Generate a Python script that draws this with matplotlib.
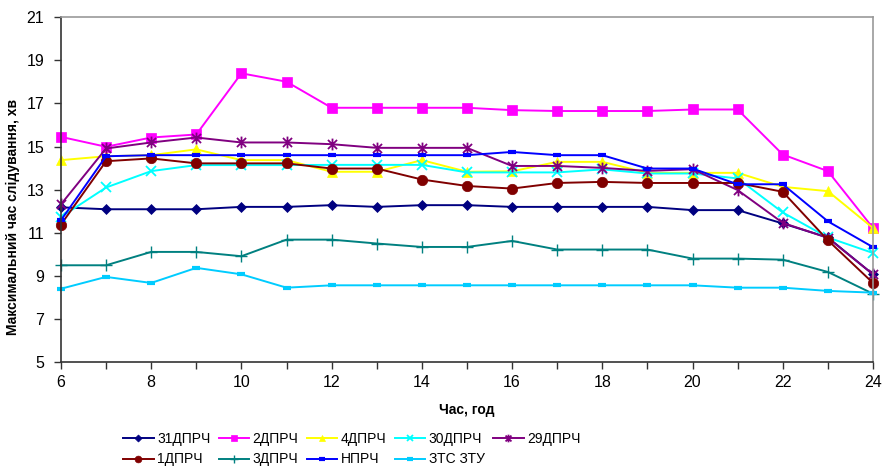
import matplotlib
matplotlib.use("Agg")
import matplotlib.pyplot as plt
from matplotlib.path import Path
from matplotlib.ticker import MultipleLocator

plt.rcParams['font.family'] = ['Liberation Sans', 'DejaVu Sans']

hours = list(range(6, 25))
y_ticks = [5, 7, 9, 11, 13, 15, 17, 19, 21]

series_names = ["31ДПРЧ", "2ДПРЧ", "4ДПРЧ", "30ДПРЧ", "29ДПРЧ",
                "1ДПРЧ", "3ДПРЧ", "НПРЧ", "ЗТС ЗТУ"]

s31 = [12.18, 12.09, 12.09, 12.09, 12.2, 12.2, 12.28, 12.2, 12.28, 12.28,
       12.2, 12.2, 12.2, 12.2, 12.05, 12.05, 11.43, 10.78, 9.07]
s2 = [15.45, 14.99, 15.42, 15.56, 18.4, 18.01, 16.8, 16.8, 16.8, 16.8,
      16.69, 16.65, 16.65, 16.65, 16.72, 16.72, 14.63, 13.86, 11.22]
s4 = [14.37, 14.55, 14.6, 14.87, 14.37, 14.37, 13.83, 13.83, 14.37, 13.83,
      13.85, 14.29, 14.29, 13.78, 13.78, 13.78, 13.13, 12.93, 11.22]
s30 = [11.73, 13.1, 13.86, 14.14, 14.14, 14.14, 14.15, 14.15, 14.15, 13.8,
       13.8, 13.8, 13.94, 13.75, 13.75, 13.52, 11.94, 10.78, 10.06]
s29 = [12.32, 14.91, 15.19, 15.42, 15.19, 15.19, 15.11, 14.94, 14.94, 14.94,
       14.1, 14.1, 14.01, 13.87, 13.95, 12.98, 11.46, 10.76, 9.07]
s1 = [11.38, 14.32, 14.45, 14.22, 14.22, 14.22, 13.98, 13.98, 13.47, 13.17,
      13.05, 13.31, 13.36, 13.31, 13.31, 13.31, 12.9, 10.65, 8.67]
s3 = [9.49, 9.49, 10.11, 10.11, 9.91, 10.68, 10.68, 10.5, 10.34, 10.34,
      10.62, 10.22, 10.22, 10.22, 9.8, 9.8, 9.75, 9.18, 8.17]
snp = [11.58, 14.55, 14.6, 14.6, 14.6, 14.6, 14.6, 14.6, 14.6, 14.6,
       14.75, 14.6, 14.6, 13.98, 13.98, 13.25, 13.25, 11.53, 10.33]
szts = [8.4, 8.95, 8.67, 9.37, 9.07, 8.45, 8.56, 8.56, 8.56, 8.56,
        8.56, 8.56, 8.56, 8.56, 8.56, 8.45, 8.45, 8.3, 8.22]

series_values = [s31, s2, s4, s30, s29, s1, s3, snp, szts]

# asterisk marker: an "x" crossed by a vertical stroke
star_path = Path(
    [(-1, -1), (1, 1), (-1, 1), (1, -1), (0, -1.3), (0, 1.3)],
    [Path.MOVETO, Path.LINETO, Path.MOVETO, Path.LINETO, Path.MOVETO, Path.LINETO],
)

styles = [
    dict(color="#000080", marker="D", ms=5.5, mew=0.5),
    dict(color="#FF00FF", marker="s", ms=7.5, mew=0.5),
    dict(color="#FFFF00", marker="^", ms=7.5, mew=0.5),
    dict(color="#00FFFF", marker="x", ms=7, mew=1.3),
    dict(color="#800080", marker=star_path, ms=8.5, mew=1.3),
    dict(color="#800000", marker="o", ms=7.5, mew=0.5),
    dict(color="#008080", marker="+", ms=8, mew=1.0),
    dict(color="#0000FF", marker="_", ms=6, mew=3),
    dict(color="#00CCFF", marker="_", ms=6, mew=3),
]

fig = plt.figure(figsize=(8.86, 4.71), dpi=100)
ax = fig.add_axes([0.0688, 0.2314, 0.9165, 0.7319])

handles = []
for name, vals, st in zip(series_names, series_values, styles):
    h, = ax.plot(hours, vals, color=st["color"], lw=1.4, marker=st["marker"],
                 markersize=st["ms"], markeredgewidth=st["mew"],
                 markerfacecolor=st["color"], markeredgecolor=st["color"],
                 label=name, clip_on=False)
    handles.append(h)

ax.set_xlim(6, 24)
ax.set_ylim(5, 21)
ax.xaxis.set_major_locator(MultipleLocator(2))
ax.xaxis.set_minor_locator(MultipleLocator(1))
ax.set_yticks(y_ticks)
ax.tick_params(axis="both", which="both", direction="out", length=5,
               width=1, color="#333333", labelsize=11.5)
ax.tick_params(axis="y", pad=7)
ax.tick_params(axis="x", pad=4)

for side in ("left", "bottom"):
    ax.spines[side].set_color("#333333")
    ax.spines[side].set_linewidth(1.2)
for side in ("top", "right"):
    ax.spines[side].set_color("#999999")
    ax.spines[side].set_linewidth(1.2)

ax.set_ylabel("Максимальний час слідування, хв", fontsize=10,
              fontweight="bold")
ax.yaxis.set_label_coords(-0.05, 0.42)
ax.set_xlabel("Час, год", fontsize=10, fontweight="bold")
ax.xaxis.set_label_coords(0.5, -0.118)

# legend laid out row by row: five entries on the first row, four on the second
order = [0, 5, 1, 6, 2, 7, 3, 8, 4]
leg = fig.legend([handles[i] for i in order], [series_names[i] for i in order],
                 ncol=5, loc="center", bbox_to_anchor=(0.397, 0.046),
                 frameon=False, fontsize=10, handlelength=2.2,
                 handletextpad=0.25, columnspacing=0.6, labelspacing=0.45,
                 borderpad=0.2, markerscale=0.65)

fig.savefig("out.png", dpi=100)
